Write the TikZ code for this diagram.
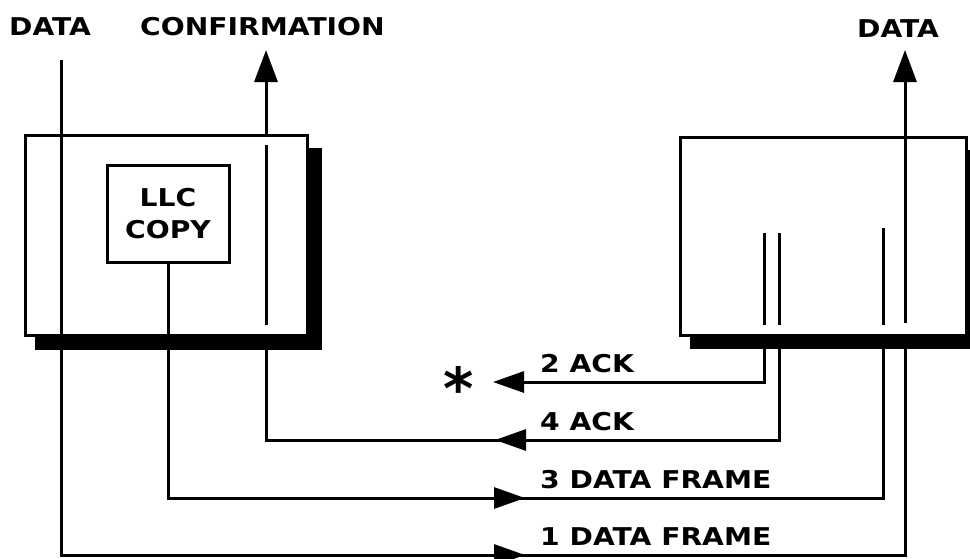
\documentclass[tikz,border=0pt]{standalone}
\usepackage{fontspec}
\setmainfont{DejaVu Sans}
\usetikzlibrary{arrows.meta}
\newcommand\wide[1]{\scalebox{1.15}[1]{#1}}
\tikzset{
  wire/.style={line width=3pt},
  frame/.style={draw, line width=3pt, fill=white},
  shadowbox/.style={fill=black},
  lbl/.style={font=\bfseries\fontsize{24.5}{24}\selectfont, inner sep=0pt, anchor=base west},
  tipv/.style={-{Triangle[length=32pt,width=23pt]}},
  tiph/.style={-{Triangle[length=31pt,width=21pt]}},
}
\begin{document}
\begin{tikzpicture}[x=1pt,y=-1pt]
\useasboundingbox (0,0) rectangle (970,558);
\clip (0,0) rectangle (970,558);
% shadows
\fill[shadowbox] (35,148) rectangle (322,350);
\fill[shadowbox] (690,150) rectangle (990,349);
% boxes
\node[frame, minimum width=282pt, minimum height=200pt, inner sep=0pt] (stA) at (166,235) {};
\node[frame, minimum width=286pt, minimum height=198pt, inner sep=0pt] (stB) at (823,236) {};
\node[frame, minimum width=122pt, minimum height=97pt, inner sep=0pt, align=center,
      font=\bfseries\fontsize{24.5}{32}\selectfont] (llc) at (168,213.5) {\wide{LLC}\\\wide{COPY}};
% labels
\node[lbl] (tDataL) at (9,35) {\wide{DATA}};
\node[lbl] (tConf) at (140,35) {\wide{CONFIRMATION}};
\node[lbl] (tDataR) at (857,37) {\wide{DATA}};
\node[lbl] (l2) at (540,372) {\wide{2 ACK}};
\node[lbl] (l4) at (540,430) {\wide{4 ACK}};
\node[lbl] (l3) at (540,488) {\wide{3 DATA FRAME}};
\node[lbl] (l1) at (540,545) {\wide{1 DATA FRAME}};
\node[font=\bfseries\fontsize{58}{58}\selectfont, inner sep=0pt, anchor=center] (star) at (459,388) {*};
% coordinates
\coordinate (dL0) at (61,60);
\coordinate (dL1) at (61,555);
\coordinate (dR1) at (905,555);
\coordinate (dRb) at (905,336);
\coordinate (dRi) at (905,323);
\coordinate (dRt) at (905,50);
\coordinate (cfb) at (266,136);
\coordinate (cft) at (266,50);
\coordinate (cfi0) at (266,145);
\coordinate (cfi1) at (266,325);
\coordinate (cfo) at (266,336);
\coordinate (a4c) at (779,440);
\coordinate (a4o) at (779,336);
\coordinate (a4i0) at (779,233);
\coordinate (a4i1) at (779,325);
\coordinate (a2o) at (764,336);
\coordinate (a2i0) at (764,233);
\coordinate (a2i1) at (764,325);
\coordinate (a2e) at (493,382);
\coordinate (f3c) at (883,498);
\coordinate (f3o) at (883,336);
\coordinate (f3i0) at (883,228);
\coordinate (f3i1) at (883,325);
\coordinate (h4a) at (527,440);
\coordinate (h4b) at (495,440);
\coordinate (h3a) at (493,498);
\coordinate (h3b) at (525,498);
\coordinate (h1a) at (493,555);
\coordinate (h1b) at (525,555);
% 1 data frame
\draw[wire] (dL0) -- (dL1) -- (dR1) -- (dRb);
\draw[wire, tipv] (dRi) -- (dRt);
\draw[wire, tiph] (h1a) -- (h1b);
% confirmation / 4 ack
\draw[wire, tipv] (cfb) -- (cft);
\draw[wire] (cfi0) -- (cfi1);
\draw[wire] (cfo) |- (a4c) -- (a4o);
\draw[wire] (a4i0) -- (a4i1);
\draw[wire, tiph] (h4a) -- (h4b);
% 2 ack
\draw[wire] (a2i0) -- (a2i1);
\draw[wire, tiph] (a2o) |- (a2e);
% 3 data frame
\draw[wire] (llc.south) |- (f3c) -- (f3o);
\draw[wire] (f3i0) -- (f3i1);
\draw[wire, tiph] (h3a) -- (h3b);
\end{tikzpicture}
\end{document}
